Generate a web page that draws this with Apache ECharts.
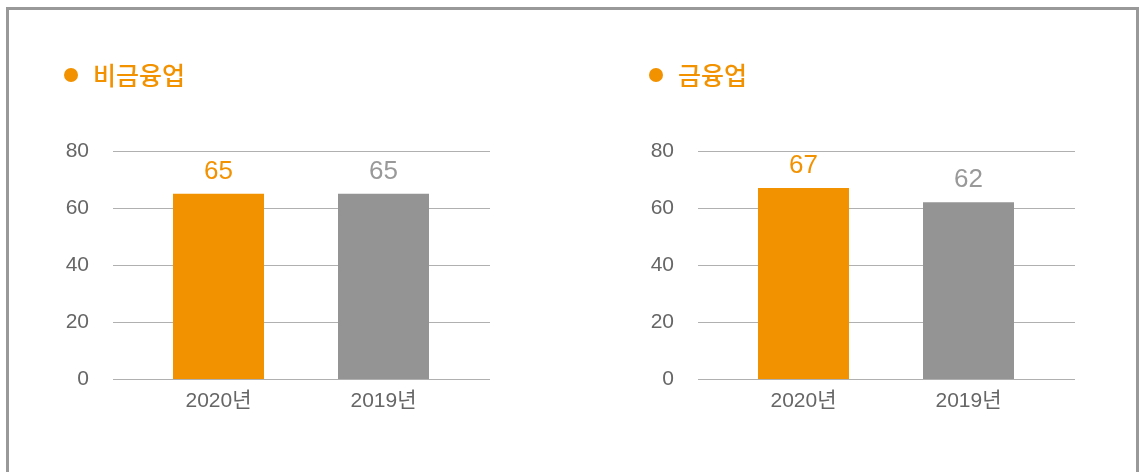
<!DOCTYPE html>
<html>
<head>
<meta charset="utf-8">
<script src="https://cdn.jsdelivr.net/npm/echarts@6/dist/echarts.min.js"></script>
<style>
html, body { margin: 0; padding: 0; background: #fff; }
.frame {
	position: absolute; left: 6px; top: 7px; width: 1127px; height: 480px;
	border: 3px solid #999; border-bottom: none;
}
#chart { position: absolute; left: 0; top: 0; width: 1141px; height: 472px; }
</style>
</head>
<body>
<div class="frame"></div>
<div id="chart"></div>
<script>
// 데이터
const categories = ["2020년", "2019년"];
const nonFinValues = [65, 65]; // 비금융업
const finValues = [67, 62];    // 금융업
const panelTitles = ["비금융업", "금융업"];
const yMin = 0, yMax = 80, yStep = 20;

const barColors = ["#F39200", "#949494"];
const labelColors = ["#F39200", "#999999"];
const fontNum = "'Liberation Sans', 'Noto Sans CJK KR', sans-serif";
const fontKr = "'Noto Sans CJK KR', sans-serif";

const chart = echarts.init(document.getElementById("chart"));

const panels = [
	{ values: nonFinValues, x: 113 },
	{ values: finValues, x: 698 },
];

let grid = [], xAxis = [], yAxis = [], series = [], title = [], graphic = [];

panels.forEach((p, i) => {
	// 눈금/격자용 grid (넓음)
	grid.push({ left: p.x, width: 377, top: 151, height: 228, containLabel: false });
	// 막대용 grid
	grid.push({ left: p.x + 23, width: 330, top: 151, height: 228, containLabel: false });
	let g0 = i * 2, g1 = i * 2 + 1;

	xAxis.push({
		gridIndex: g0, type: "category", data: categories, show: false,
	});
	xAxis.push({
		gridIndex: g1, type: "category", data: categories,
		axisLine: { show: false }, axisTick: { show: false },
		axisLabel: { color: "#666666", fontSize: 21, fontFamily: fontNum, margin: 12 },
	});
	yAxis.push({
		gridIndex: g0, type: "value", min: yMin, max: yMax, interval: yStep,
		axisLine: { show: false }, axisTick: { show: false },
		axisLabel: { color: "#666666", fontSize: 21, fontFamily: fontNum, margin: 24 },
		splitLine: { lineStyle: { color: "#b0b0b0", width: 1 } },
	});
	yAxis.push({
		gridIndex: g1, type: "value", min: yMin, max: yMax, interval: yStep, show: false,
		splitLine: { show: false },
	});
	series.push({
		type: "bar", xAxisIndex: g1, yAxisIndex: g1, barWidth: 91,
		data: p.values.map((v, k) => ({
			value: v,
			itemStyle: { color: barColors[k] },
			label: { color: labelColors[k] },
		})),
		label: {
			show: true, position: "top", distance: 9,
			fontSize: 26, fontFamily: fontNum,
		},
		silent: true,
	});

	// 제목
	graphic.push({
		type: "circle", shape: { cx: p.x - 42, cy: 75, r: 7 },
		style: { fill: "#F39200" },
	});
	title.push({
		text: panelTitles[i], left: p.x - 25, top: 58,
		textStyle: { color: "#F39200", fontSize: 25, fontWeight: 500, fontFamily: fontKr },
	});
});

chart.setOption({
	animation: false,
	title: title,
	grid: grid,
	xAxis: xAxis,
	yAxis: yAxis,
	series: series,
	graphic: graphic,
});
</script>
</body>
</html>
